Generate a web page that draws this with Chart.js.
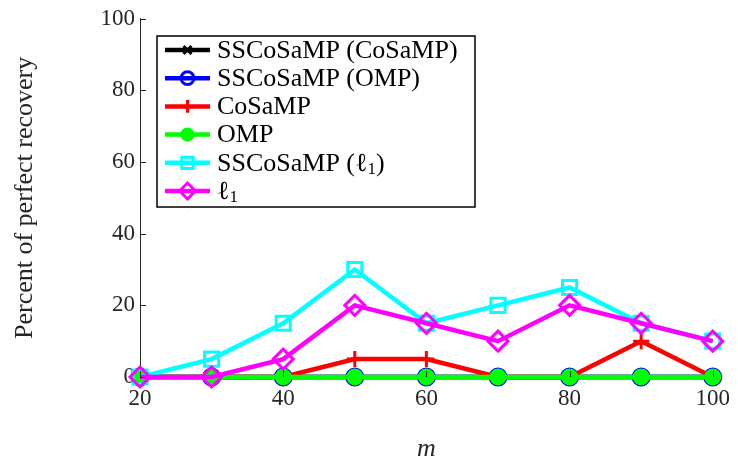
<!DOCTYPE html>
<html>
<head>
  <meta charset="UTF-8">
  <title>Perfect recovery vs m</title>
  <script src="https://cdn.jsdelivr.net/npm/chart.js"></script>
  <style>
    body { margin: 0; background: #fff; }
    #wrap { width: 738px; height: 462px; }
  </style>
</head>
<body>
  <div id="wrap"><canvas id="recovery" width="738" height="462"></canvas></div>

  <script>
    // Number of measurements
    const mValues = [20, 30, 40, 50, 60, 70, 80, 90, 100];

    // Percent of perfect recovery per method
    const ssCosampCosamp = [0, 0, 0, 0, 0, 0, 0, 0, 0];
    const ssCosampOmp    = [0, 0, 0, 0, 0, 0, 0, 0, 0];
    const cosamp         = [0, 0, 0, 5, 5, 0, 0, 10, 0];
    const omp            = [0, 0, 0, 0, 0, 0, 0, 0, 0];
    const ssCosampL1     = [0, 5, 15, 30, 15, 20, 25, 15, 10];
    const l1             = [0, 0, 5, 20, 15, 10, 20, 15, 10];

    const xTicks = [20, 40, 60, 80, 100];
    const yTicks = [0, 20, 40, 60, 80, 100];

    const FONT = '"Liberation Serif", "DejaVu Serif", serif';
    const INK = '#262626';

    function pts(arr) {
      return arr.map((v, i) => ({ x: mValues[i], y: v }));
    }

    // label parts: [text, isSubscript]
    function series(parts, data, color, style, radius, fill, order) {
      return {
        label: parts.map(p => p[0]).join(''),
        labelParts: parts,
        data: pts(data),
        borderColor: color,
        backgroundColor: fill,
        borderWidth: 4.5,
        pointStyle: style,
        pointRadius: radius,
        pointHoverRadius: radius,
        pointBorderColor: color,
        pointBackgroundColor: fill,
        pointBorderWidth: 3,
        tension: 0,
        clip: false,
        order: order
      };
    }

    const datasets = [
      series([['SSCoSaMP (CoSaMP)', false]], ssCosampCosamp, '#000000', 'crossRot', 7, 'rgba(0,0,0,0)', 6),
      series([['SSCoSaMP (OMP)', false]], ssCosampOmp, '#0000ff', 'circle', 8, 'rgba(0,0,0,0)', 5),
      series([['CoSaMP', false]], cosamp, '#ff0000', 'cross', 8, 'rgba(0,0,0,0)', 4),
      series([['OMP', false]], omp, '#00ff00', 'circle', 7, '#00ff00', 3),
      series([['SSCoSaMP (', false], ['\u2113', false], ['1', true], [')', false]], ssCosampL1, '#00ffff', 'rect', 10, 'rgba(0,0,0,0)', 2),
      series([['\u2113', false], ['1', true]], l1, '#ff00ff', 'rectRot', 10, 'rgba(0,0,0,0)', 1)
    ];

    // Inward tick marks on the left and bottom axes
    const innerTicks = {
      id: 'innerTicks',
      afterDraw(chart) {
        const { ctx, chartArea, scales } = chart;
        ctx.save();
        ctx.strokeStyle = INK;
        ctx.lineWidth = 1;
        ctx.beginPath();
        yTicks.forEach(v => {
          const y = Math.round(scales.y.getPixelForValue(v)) + 0.5;
          ctx.moveTo(chartArea.left, y);
          ctx.lineTo(chartArea.left + 6, y);
        });
        xTicks.forEach(v => {
          const x = Math.round(scales.x.getPixelForValue(v)) + 0.5;
          ctx.moveTo(x, chartArea.bottom);
          ctx.lineTo(x, chartArea.bottom - 6);
        });
        ctx.stroke();
        ctx.restore();
      }
    };

    // Boxed legend in the upper left of the plot
    const boxLegend = {
      id: 'boxLegend',
      afterDraw(chart) {
        const ctx = chart.ctx;
        const left = 157, top = 36, width = 318, height = 171;
        const rowH = 28.2, firstRow = 50;
        ctx.save();
        ctx.fillStyle = '#ffffff';
        ctx.fillRect(left, top, width, height);
        ctx.strokeStyle = '#000000';
        ctx.lineWidth = 1.5;
        ctx.strokeRect(left, top, width, height);

        chart.data.datasets.forEach((ds, i) => {
          const y = firstRow + i * rowH;
          ctx.strokeStyle = ds.borderColor;
          ctx.lineWidth = 4.5;
          ctx.beginPath();
          ctx.moveTo(165, y);
          ctx.lineTo(210, y);
          ctx.stroke();

          ctx.fillStyle = ds.pointBackgroundColor;
          ctx.strokeStyle = ds.pointBorderColor;
          ctx.lineWidth = ds.pointBorderWidth;
          Chart.helpers.drawPoint(ctx, {
            pointStyle: ds.pointStyle,
            radius: ds.pointRadius * 0.8,
            borderWidth: ds.pointBorderWidth,
            rotation: 0
          }, 187.5, y);

          let x = 217;
          ctx.fillStyle = '#000000';
          ctx.textBaseline = 'middle';
          ds.labelParts.forEach(([txt, sub]) => {
            if (sub) {
              ctx.font = '17px ' + FONT;
              ctx.fillText(txt, x, y + 7);
            } else {
              ctx.font = '26px ' + FONT;
              ctx.fillText(txt, x, y + 1);
            }
            x += ctx.measureText(txt).width;
          });
        });
        ctx.restore();
      }
    };

    new Chart(document.getElementById('recovery').getContext('2d'), {
      type: 'line',
      data: { datasets: datasets },
      options: {
        responsive: false,
        animation: false,
        events: [],
        layout: { padding: { top: 17, right: 20, left: 0, bottom: 0 } },
        plugins: {
          legend: { display: false },
          tooltip: { enabled: false }
        },
        scales: {
          x: {
            type: 'linear',
            min: 20,
            max: 100,
            afterBuildTicks: s => { s.ticks = xTicks.map(v => ({ value: v })); },
            afterFit: s => { s.height = 85; },
            grid: { display: false, drawTicks: false },
            border: { display: true, color: INK, width: 1 },
            ticks: { color: INK, font: { family: FONT, size: 23 }, padding: 8, maxRotation: 0 },
            title: {
              display: true,
              text: 'm',
              color: INK,
              font: { family: FONT, size: 26, style: 'italic', lineHeight: 1 },
              padding: { top: 0, bottom: 0 }
            }
          },
          y: {
            min: 0,
            max: 100,
            afterBuildTicks: s => { s.ticks = yTicks.map(v => ({ value: v })); },
            afterFit: s => { s.width = 140; },
            grid: { display: false, drawTicks: false },
            border: { display: true, color: INK, width: 1 },
            ticks: { color: INK, font: { family: FONT, size: 23 }, padding: 5 },
            title: {
              display: true,
              text: 'Percent of perfect recovery',
              color: INK,
              font: { family: FONT, size: 26, lineHeight: 1.2 },
              padding: { top: 10, bottom: 0 }
            }
          }
        }
      },
      plugins: [innerTicks, boxLegend]
    });
  </script>
</body>
</html>
